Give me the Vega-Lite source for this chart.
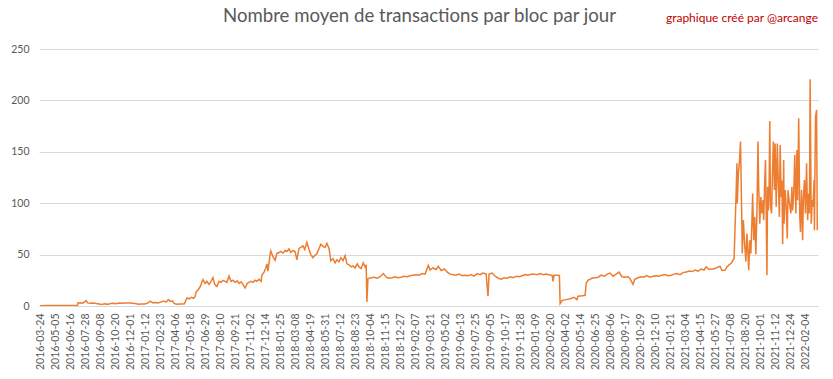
{
  "$schema": "https://vega.github.io/schema/vega-lite/v6.json",
  "width": 779,
  "height": 257,
  "autosize": {"type": "none"},
  "padding": {"left": 39, "top": 49, "right": 15, "bottom": 73},
  "background": "white",
  "title": {
    "text": "Nombre moyen de transactions par bloc par jour",
    "anchor": "middle",
    "frame": "group",
    "dx": -9,
    "offset": -22,
    "baseline": "middle",
    "font": "Lato",
    "fontSize": 18.6,
    "fontWeight": "normal",
    "color": "#595959"
  },
  "config": {
    "view": {"stroke": null},
    "axis": {"labelFont": "Lato", "labelFontSize": 10.5, "labelColor": "#595959"}
  },
  "layer": [
    {
      "data": {
        "values": [
          {"d":"2016-03-24","v":0.3},{"d":"2016-04-10","v":0.4},{"d":"2016-04-28","v":0.4},{"d":"2016-05-15","v":0.5},
          {"d":"2016-06-01","v":0.5},{"d":"2016-06-18","v":0.5},{"d":"2016-07-07","v":0.6},{"d":"2016-07-08","v":3.0},
          {"d":"2016-07-15","v":3.2},{"d":"2016-07-22","v":2.8},{"d":"2016-07-31","v":5.2},{"d":"2016-08-04","v":3.0},
          {"d":"2016-08-12","v":2.6},{"d":"2016-08-20","v":2.9},{"d":"2016-08-28","v":2.4},{"d":"2016-09-05","v":2.0},
          {"d":"2016-09-13","v":1.5},{"d":"2016-09-21","v":2.2},{"d":"2016-09-29","v":1.6},{"d":"2016-10-07","v":2.4},
          {"d":"2016-10-15","v":2.6},{"d":"2016-10-23","v":2.3},{"d":"2016-10-31","v":2.9},{"d":"2016-11-08","v":2.7},
          {"d":"2016-11-16","v":3.0},{"d":"2016-11-24","v":2.8},{"d":"2016-12-02","v":3.0},{"d":"2016-12-10","v":2.6},
          {"d":"2016-12-18","v":2.2},{"d":"2016-12-26","v":1.8},{"d":"2017-01-03","v":2.0},{"d":"2017-01-11","v":1.9},
          {"d":"2017-01-19","v":2.8},{"d":"2017-01-26","v":4.8},{"d":"2017-02-02","v":3.2},{"d":"2017-02-10","v":3.5},
          {"d":"2017-02-18","v":3.0},{"d":"2017-02-26","v":4.0},{"d":"2017-03-05","v":4.8},{"d":"2017-03-12","v":3.8},
          {"d":"2017-03-18","v":6.2},{"d":"2017-03-24","v":4.5},{"d":"2017-03-30","v":5.0},{"d":"2017-04-03","v":2.5},
          {"d":"2017-04-10","v":1.8},{"d":"2017-04-18","v":2.0},{"d":"2017-04-26","v":1.9},{"d":"2017-05-02","v":2.2},
          {"d":"2017-05-06","v":5.5},{"d":"2017-05-10","v":7.8},{"d":"2017-05-16","v":7.0},{"d":"2017-05-22","v":8.5},
          {"d":"2017-05-28","v":7.5},{"d":"2017-06-01","v":9.0},{"d":"2017-06-04","v":13.7},{"d":"2017-06-08","v":15},
          {"d":"2017-06-12","v":17},{"d":"2017-06-17","v":20},{"d":"2017-06-20","v":23.4},{"d":"2017-06-23","v":25.7},
          {"d":"2017-06-29","v":22},{"d":"2017-07-04","v":24},{"d":"2017-07-10","v":21},{"d":"2017-07-15","v":23.5},
          {"d":"2017-07-21","v":27.6},{"d":"2017-07-26","v":21},{"d":"2017-08-01","v":19},{"d":"2017-08-07","v":24},
          {"d":"2017-08-13","v":23},{"d":"2017-08-18","v":25},{"d":"2017-08-24","v":24},{"d":"2017-08-29","v":23},
          {"d":"2017-09-04","v":29},{"d":"2017-09-10","v":24},{"d":"2017-09-15","v":25},{"d":"2017-09-21","v":23},
          {"d":"2017-09-27","v":24.5},{"d":"2017-10-02","v":22},{"d":"2017-10-08","v":23.5},{"d":"2017-10-13","v":21},
          {"d":"2017-10-19","v":17.5},{"d":"2017-10-25","v":22},{"d":"2017-10-30","v":23},{"d":"2017-11-05","v":24},
          {"d":"2017-11-10","v":23},{"d":"2017-11-16","v":25},{"d":"2017-11-21","v":24},{"d":"2017-11-27","v":26},
          {"d":"2017-12-03","v":24},{"d":"2017-12-05","v":30},{"d":"2017-12-11","v":33},{"d":"2017-12-16","v":37},
          {"d":"2017-12-19","v":41},{"d":"2017-12-22","v":34},{"d":"2017-12-28","v":50},{"d":"2017-12-30","v":53.6},
          {"d":"2018-01-05","v":48},{"d":"2018-01-11","v":44.5},{"d":"2018-01-16","v":51},{"d":"2018-01-22","v":52},
          {"d":"2018-01-27","v":53},{"d":"2018-02-02","v":51.5},{"d":"2018-02-08","v":54},{"d":"2018-02-13","v":53},
          {"d":"2018-02-19","v":55.5},{"d":"2018-02-24","v":52},{"d":"2018-03-02","v":54},{"d":"2018-03-08","v":53},
          {"d":"2018-03-13","v":45},{"d":"2018-03-19","v":56},{"d":"2018-03-24","v":57},{"d":"2018-03-30","v":58.5},
          {"d":"2018-04-04","v":55},{"d":"2018-04-10","v":62},{"d":"2018-04-16","v":55},{"d":"2018-04-21","v":50},
          {"d":"2018-04-27","v":47},{"d":"2018-05-02","v":49},{"d":"2018-05-08","v":51},{"d":"2018-05-14","v":56},
          {"d":"2018-05-19","v":60},{"d":"2018-05-25","v":58},{"d":"2018-05-31","v":57},{"d":"2018-06-05","v":61},
          {"d":"2018-06-11","v":56},{"d":"2018-06-16","v":44},{"d":"2018-06-22","v":46},{"d":"2018-06-28","v":42},
          {"d":"2018-07-03","v":45},{"d":"2018-07-09","v":43},{"d":"2018-07-14","v":47},{"d":"2018-07-20","v":44},
          {"d":"2018-07-26","v":49},{"d":"2018-07-31","v":41},{"d":"2018-08-06","v":40},{"d":"2018-08-12","v":38},
          {"d":"2018-08-17","v":39},{"d":"2018-08-23","v":37},{"d":"2018-08-29","v":41},{"d":"2018-09-03","v":38},
          {"d":"2018-09-09","v":36.5},{"d":"2018-09-15","v":42},{"d":"2018-09-20","v":38},{"d":"2018-09-23","v":40},
          {"d":"2018-09-25","v":4},{"d":"2018-09-28","v":26.7},{"d":"2018-10-07","v":27.5},{"d":"2018-10-15","v":28},
          {"d":"2018-10-24","v":27},{"d":"2018-11-01","v":28.5},{"d":"2018-11-10","v":31.6},{"d":"2018-11-18","v":28},
          {"d":"2018-11-26","v":27},{"d":"2018-12-05","v":27.5},{"d":"2018-12-13","v":28.5},{"d":"2018-12-21","v":27.5},
          {"d":"2018-12-30","v":28},{"d":"2019-01-07","v":29},{"d":"2019-01-16","v":28.5},{"d":"2019-01-24","v":29.5},
          {"d":"2019-02-01","v":30},{"d":"2019-02-10","v":30.5},{"d":"2019-02-18","v":30},{"d":"2019-02-27","v":31.5},
          {"d":"2019-03-07","v":31},{"d":"2019-03-16","v":39.5},{"d":"2019-03-21","v":35},{"d":"2019-03-29","v":37},
          {"d":"2019-04-07","v":35.5},{"d":"2019-04-13","v":38.5},{"d":"2019-04-21","v":34.5},{"d":"2019-04-30","v":36},
          {"d":"2019-05-08","v":33},{"d":"2019-05-16","v":31},{"d":"2019-05-25","v":30.5},{"d":"2019-06-02","v":30},
          {"d":"2019-06-10","v":31},{"d":"2019-06-19","v":29.5},{"d":"2019-06-27","v":30},{"d":"2019-07-06","v":29.5},
          {"d":"2019-07-14","v":30.5},{"d":"2019-07-22","v":29},{"d":"2019-07-31","v":31.5},{"d":"2019-08-08","v":30.5},
          {"d":"2019-08-16","v":32},{"d":"2019-08-25","v":31},{"d":"2019-08-30","v":9.5},{"d":"2019-09-02","v":31},
          {"d":"2019-09-11","v":32},{"d":"2019-09-19","v":29},{"d":"2019-09-28","v":27},{"d":"2019-10-06","v":26},
          {"d":"2019-10-14","v":27.5},{"d":"2019-10-23","v":27},{"d":"2019-10-31","v":28.5},{"d":"2019-11-09","v":27.5},
          {"d":"2019-11-17","v":29},{"d":"2019-11-25","v":28.5},{"d":"2019-12-04","v":29.5},{"d":"2019-12-12","v":30.5},
          {"d":"2019-12-21","v":30},{"d":"2019-12-29","v":31},{"d":"2020-01-06","v":31},{"d":"2020-01-15","v":30.5},
          {"d":"2020-01-23","v":31.5},{"d":"2020-02-01","v":30.5},{"d":"2020-02-09","v":31},{"d":"2020-02-17","v":30.5},
          {"d":"2020-02-26","v":29.5},{"d":"2020-02-28","v":24},{"d":"2020-03-02","v":30},{"d":"2020-03-11","v":30},
          {"d":"2020-03-17","v":29.5},{"d":"2020-03-19","v":2.3},{"d":"2020-03-25","v":5.5},{"d":"2020-04-05","v":6.2},
          {"d":"2020-04-16","v":7},{"d":"2020-04-27","v":8.5},{"d":"2020-05-05","v":6.2},{"d":"2020-05-08","v":9.5},
          {"d":"2020-05-20","v":10},{"d":"2020-05-28","v":10.4},{"d":"2020-05-31","v":22.4},{"d":"2020-06-05","v":25},
          {"d":"2020-06-16","v":27},{"d":"2020-06-25","v":27.5},{"d":"2020-07-04","v":28},{"d":"2020-07-12","v":30},
          {"d":"2020-07-21","v":29},{"d":"2020-07-29","v":31},{"d":"2020-08-06","v":32},{"d":"2020-08-14","v":29},
          {"d":"2020-08-23","v":31},{"d":"2020-08-31","v":33},{"d":"2020-09-08","v":28.5},{"d":"2020-09-17","v":28},
          {"d":"2020-09-25","v":28.5},{"d":"2020-09-30","v":27},{"d":"2020-10-09","v":21},{"d":"2020-10-14","v":26},
          {"d":"2020-10-23","v":27.5},{"d":"2020-10-31","v":28.5},{"d":"2020-11-08","v":28},{"d":"2020-11-17","v":29.5},
          {"d":"2020-11-25","v":28},{"d":"2020-12-04","v":29},{"d":"2020-12-12","v":29.5},{"d":"2020-12-21","v":29},
          {"d":"2020-12-29","v":30},{"d":"2021-01-07","v":30.5},{"d":"2021-01-15","v":29.5},{"d":"2021-01-24","v":30},
          {"d":"2021-02-01","v":31},{"d":"2021-02-09","v":31.5},{"d":"2021-02-18","v":30.5},{"d":"2021-02-26","v":32.5},
          {"d":"2021-03-07","v":33},{"d":"2021-03-16","v":34},{"d":"2021-03-24","v":33.5},{"d":"2021-04-01","v":35},
          {"d":"2021-04-09","v":34},{"d":"2021-04-18","v":36},{"d":"2021-04-26","v":35},{"d":"2021-05-02","v":38},
          {"d":"2021-05-10","v":35.5},{"d":"2021-05-19","v":36},{"d":"2021-05-27","v":36.5},{"d":"2021-06-04","v":38},
          {"d":"2021-06-10","v":38.5},{"d":"2021-06-15","v":34.5},{"d":"2021-06-24","v":35},{"d":"2021-06-29","v":38},
          {"d":"2021-07-05","v":40},{"d":"2021-07-11","v":41.5},{"d":"2021-07-16","v":44.5},{"d":"2021-07-19","v":46},
          {"d":"2021-07-23","v":90},{"d":"2021-07-25","v":112.8},{"d":"2021-07-27","v":138.8},{"d":"2021-07-28","v":100},
          {"d":"2021-07-31","v":129},{"d":"2021-08-03","v":140},{"d":"2021-08-06","v":160},{"d":"2021-08-08","v":119},
          {"d":"2021-08-10","v":77},{"d":"2021-08-11","v":51},{"d":"2021-08-14","v":83.5},{"d":"2021-08-17","v":64},
          {"d":"2021-08-21","v":43},{"d":"2021-08-24","v":70.6},{"d":"2021-08-26","v":57.5},{"d":"2021-08-29","v":34.8},
          {"d":"2021-09-01","v":64},{"d":"2021-09-04","v":51},{"d":"2021-09-07","v":82},{"d":"2021-09-09","v":109.5},
          {"d":"2021-09-12","v":64},{"d":"2021-09-15","v":86.7},{"d":"2021-09-18","v":50},{"d":"2021-09-21","v":90},
          {"d":"2021-09-24","v":160},{"d":"2021-09-26","v":115},{"d":"2021-09-29","v":80},{"d":"2021-10-02","v":106},
          {"d":"2021-10-05","v":90},{"d":"2021-10-08","v":103},{"d":"2021-10-10","v":83.5},{"d":"2021-10-13","v":122.5},
          {"d":"2021-10-15","v":142},{"d":"2021-10-17","v":90},{"d":"2021-10-19","v":30},{"d":"2021-10-21","v":116},
          {"d":"2021-10-23","v":93},{"d":"2021-10-25","v":112.8},{"d":"2021-10-27","v":180},{"d":"2021-10-29","v":96.5},
          {"d":"2021-11-01","v":90},{"d":"2021-11-04","v":135.5},{"d":"2021-11-06","v":160},{"d":"2021-11-09","v":112.8},
          {"d":"2021-11-11","v":158},{"d":"2021-11-14","v":96.5},{"d":"2021-11-17","v":158},{"d":"2021-11-20","v":119},
          {"d":"2021-11-23","v":86.7},{"d":"2021-11-25","v":156.6},{"d":"2021-11-28","v":106},{"d":"2021-11-30","v":122},
          {"d":"2021-12-02","v":60},{"d":"2021-12-05","v":142},{"d":"2021-12-06","v":80},{"d":"2021-12-09","v":112.8},
          {"d":"2021-12-12","v":96.5},{"d":"2021-12-15","v":65.7},{"d":"2021-12-17","v":112.8},{"d":"2021-12-20","v":103},
          {"d":"2021-12-25","v":90},{"d":"2021-12-28","v":116},{"d":"2021-12-30","v":93},{"d":"2022-01-02","v":109.5},
          {"d":"2022-01-05","v":147},{"d":"2022-01-08","v":90},{"d":"2022-01-11","v":151.8},{"d":"2022-01-13","v":103},
          {"d":"2022-01-16","v":182.6},{"d":"2022-01-19","v":86.7},{"d":"2022-01-21","v":72},{"d":"2022-01-24","v":112.8},
          {"d":"2022-01-27","v":64},{"d":"2022-01-29","v":103},{"d":"2022-02-01","v":122.5},{"d":"2022-02-04","v":90},
          {"d":"2022-02-07","v":138.8},{"d":"2022-02-10","v":83.5},{"d":"2022-02-12","v":109.5},{"d":"2022-02-15","v":90},
          {"d":"2022-02-17","v":220.6},{"d":"2022-02-20","v":80},{"d":"2022-02-23","v":103},{"d":"2022-02-25","v":96.5},
          {"d":"2022-02-28","v":122.5},{"d":"2022-03-01","v":73.8},{"d":"2022-03-04","v":184},{"d":"2022-03-07","v":190.7},
          {"d":"2022-03-09","v":73.8}
        ]
      },
      "mark": {"type": "line", "color": "#ED7D31", "strokeWidth": 1.5, "clip": true},
      "encoding": {
        "x": {
          "field": "d",
          "type": "temporal",
          "scale": {
            "type": "utc",
            "domain": [{"year": 2016, "month": 3, "date": 21, "utc": true}, {"year": 2022, "month": 3, "date": 11, "utc": true}]
          },
          "axis": {
            "title": null,
            "labelExpr": "utcFormat(datum.value, '%Y-%m-%d')",
            "labelAngle": 270,
            "labelPadding": 7,
            "ticks": false,
            "grid": false,
            "domainColor": "#D9D9D9",
            "labelOverlap": false,
            "labelFlush": false,
            "tickCount": 200,
            "values": [
              {"year":2016,"month":3,"date":24,"utc":true},{"year":2016,"month":5,"date":5,"utc":true},{"year":2016,"month":6,"date":16,"utc":true},
              {"year":2016,"month":7,"date":28,"utc":true},{"year":2016,"month":9,"date":8,"utc":true},{"year":2016,"month":10,"date":20,"utc":true},
              {"year":2016,"month":12,"date":1,"utc":true},{"year":2017,"month":1,"date":12,"utc":true},{"year":2017,"month":2,"date":23,"utc":true},
              {"year":2017,"month":4,"date":6,"utc":true},{"year":2017,"month":5,"date":18,"utc":true},{"year":2017,"month":6,"date":29,"utc":true},
              {"year":2017,"month":8,"date":10,"utc":true},{"year":2017,"month":9,"date":21,"utc":true},{"year":2017,"month":11,"date":2,"utc":true},
              {"year":2017,"month":12,"date":14,"utc":true},{"year":2018,"month":1,"date":25,"utc":true},{"year":2018,"month":3,"date":8,"utc":true},
              {"year":2018,"month":4,"date":19,"utc":true},{"year":2018,"month":5,"date":31,"utc":true},{"year":2018,"month":7,"date":12,"utc":true},
              {"year":2018,"month":8,"date":23,"utc":true},{"year":2018,"month":10,"date":4,"utc":true},{"year":2018,"month":11,"date":15,"utc":true},
              {"year":2018,"month":12,"date":27,"utc":true},{"year":2019,"month":2,"date":7,"utc":true},{"year":2019,"month":3,"date":21,"utc":true},
              {"year":2019,"month":5,"date":2,"utc":true},{"year":2019,"month":6,"date":13,"utc":true},{"year":2019,"month":7,"date":25,"utc":true},
              {"year":2019,"month":9,"date":5,"utc":true},{"year":2019,"month":10,"date":17,"utc":true},{"year":2019,"month":11,"date":28,"utc":true},
              {"year":2020,"month":1,"date":9,"utc":true},{"year":2020,"month":2,"date":20,"utc":true},{"year":2020,"month":4,"date":2,"utc":true},
              {"year":2020,"month":5,"date":14,"utc":true},{"year":2020,"month":6,"date":25,"utc":true},{"year":2020,"month":8,"date":6,"utc":true},
              {"year":2020,"month":9,"date":17,"utc":true},{"year":2020,"month":10,"date":29,"utc":true},{"year":2020,"month":12,"date":10,"utc":true},
              {"year":2021,"month":1,"date":21,"utc":true},{"year":2021,"month":3,"date":4,"utc":true},{"year":2021,"month":4,"date":15,"utc":true},
              {"year":2021,"month":5,"date":27,"utc":true},{"year":2021,"month":7,"date":8,"utc":true},{"year":2021,"month":8,"date":20,"utc":true},
              {"year":2021,"month":10,"date":1,"utc":true},{"year":2021,"month":11,"date":12,"utc":true},{"year":2021,"month":12,"date":24,"utc":true},
              {"year":2022,"month":2,"date":4,"utc":true}
            ]
          }
        },
        "y": {
          "field": "v",
          "type": "quantitative",
          "scale": {"domain": [0, 250], "nice": false},
          "axis": {
            "title": null,
            "values": [0, 50, 100, 150, 200, 250],
            "ticks": false,
            "domain": false,
            "labelPadding": 10,
            "gridColor": "#D9D9D9",
            "gridWidth": 1
          }
        }
      }
    },
    {
      "data": {"values": [{"note": "graphique créé par @arcange"}]},
      "mark": {
        "type": "text",
        "align": "right",
        "baseline": "middle",
        "font": "Lato",
        "fontSize": 12,
        "fontWeight": "normal",
        "fill": "#C00000",
        "clip": false
      },
      "encoding": {
        "text": {"field": "note", "type": "nominal"},
        "x": {"datum": {"year": 2022, "month": 3, "date": 11, "utc": true}, "type": "temporal"},
        "y": {"datum": 280, "type": "quantitative"}
      }
    }
  ]
}
